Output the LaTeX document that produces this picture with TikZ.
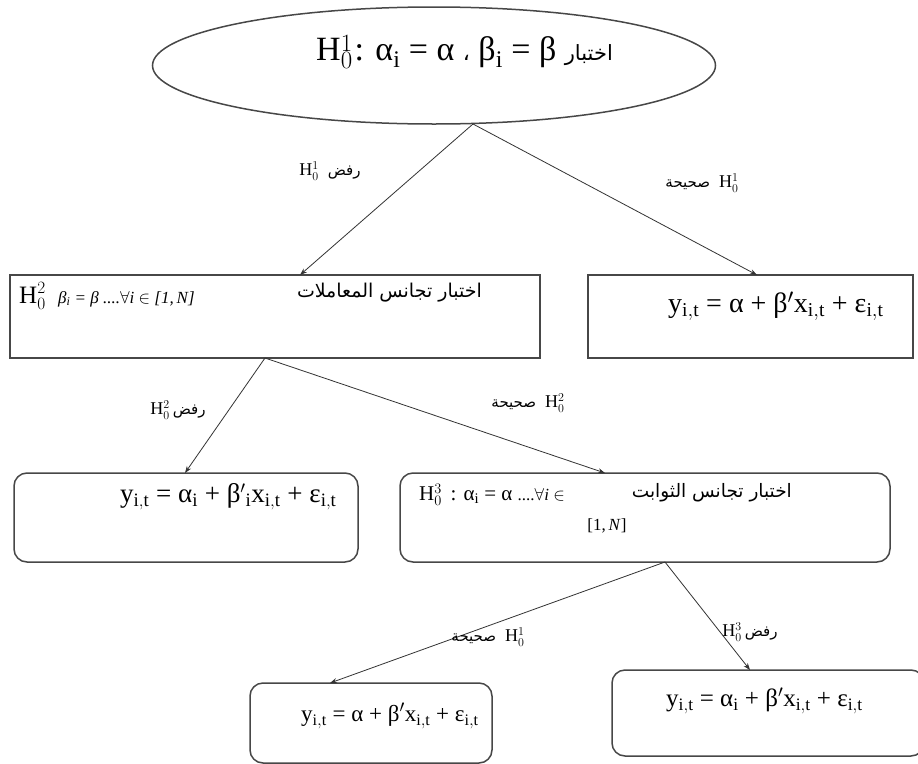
\documentclass[tikz,border=0pt]{standalone}
\usepackage{fontspec}
\setmainfont{Liberation Serif}
\newfontfamily\arabicfont[Script=Arabic]{DejaVu Sans}
\TeXXeTstate=1
\usetikzlibrary{shapes.geometric,arrows.meta}
\newcommand{\Hzero}[1]{$\mathrm{H}_0^{#1}$}
\newcommand{\artxt}[1]{{\arabicfont\beginR #1\endR}}
\newcommand{\sbit}[1]{$_{\mathrm{#1}}$}
\newcommand{\fsz}[1]{\fontsize{#1}{#1}\selectfont}
\begin{document}
\begin{tikzpicture}[x=1pt,y=-1pt,
  boxline/.style={draw=black!72, line width=1.5pt},
  sqbox/.style={boxline, rectangle, inner sep=0pt},
  rbox/.style={boxline, rectangle, rounded corners=13pt, inner sep=0pt},
  conn/.style={draw=black!80, line width=0.8pt, -{Stealth[length=7pt,width=5pt]}},
  lbl/.style={inner sep=0pt, font=\fsz{18}},
  eqn/.style={inner sep=0pt, anchor=west},
]
\useasboundingbox (0,0) rectangle (918,763);
\fill[white] (0,0) rectangle (918,763);

% top ellipse
\node[boxline, ellipse, minimum width=563pt, minimum height=117pt] (top) at (434,65.5) {};
\node[eqn, font=\fsz{34}] (toptxt) at (316,52)
  {\Hzero{1}\kern2pt: α\sbit{i} = α {\fsz{22}\artxt{،}} β\sbit{i} = β {\fsz{21}\artxt{اختبار}}};

% row 2 boxes
\node[sqbox, minimum width=530pt, minimum height=83pt] (A) at (275,316.5) {};
\node[sqbox, minimum width=325pt, minimum height=83pt] (B) at (750.5,316.5) {};
\node[eqn, font=\fsz{25}] (Atxt) at (19,296)
  {\Hzero{2}\ \ {\fsz{17}\itshape β\textsubscript{i} = β ....$\forall$i $\in$ [1,\,N]}};
\node[inner sep=0pt, anchor=east, font=\fsz{19}] (Aar) at (482,293)
  {\artxt{اختبار تجانس المعاملات}};
\node[eqn, font=\fsz{28}] (Btxt) at (668,306)
  {y\sbit{i,t} = α + β$'$x\sbit{i,t} + ε\sbit{i,t}};

% row 3 boxes
\node[rbox, minimum width=344pt, minimum height=89pt] (C) at (186,517.5) {};
\node[rbox, minimum width=490pt, minimum height=89pt] (D) at (645,517.5) {};
\node[eqn, font=\fsz{27}] (Ctxt) at (120,497)
  {y\sbit{i,t} = α\sbit{i} + β$'$\sbit{i}x\sbit{i,t} + ε\sbit{i,t}};
\node[eqn, font=\fsz{21}] (Dtxt) at (419,495)
  {\Hzero{3}\, : α\sbit{i} = α {\fsz{17}....$\forall$\textit{i} $\in$}};
\node[inner sep=0pt, anchor=east, font=\fsz{18.5}] (Dar) at (792,493)
  {\artxt{اختبار تجانس الثوابت}};
\node[inner sep=0pt, font=\fsz{17}] (Dint) at (607,526) {[1,\,\textit{N}]};

% row 4 boxes
\node[rbox, minimum width=242pt, minimum height=80pt] (E) at (371,723) {};
\node[rbox, minimum width=312pt, minimum height=86pt] (F) at (768,713) {};
\node[eqn, font=\fsz{23}] (Etxt) at (301,716)
  {y\sbit{i,t} = α + β$'$x\sbit{i,t} + ε\sbit{i,t}};
\node[eqn, font=\fsz{25}] (Ftxt) at (666,701)
  {y\sbit{i,t} = α\sbit{i} + β$'$x\sbit{i,t} + ε\sbit{i,t}};

% connector points
\coordinate (apex) at (473,124);
\coordinate (Ain) at (300,275);
\coordinate (Bin) at (757,275);
\coordinate (Aout) at (265,358);
\coordinate (Cin) at (185,473);
\coordinate (Din) at (605,473);
\coordinate (Dout) at (665,562);
\coordinate (Ein) at (330,683);
\coordinate (Fin) at (750,670);

\draw[conn] (apex) -- (Ain);
\draw[conn] (apex) -- (Bin);
\draw[conn] (Aout) -- (Cin);
\draw[conn] (Aout) -- (Din);
\draw[conn] (Dout) -- (Ein);
\draw[conn] (Dout) -- (Fin);

% labels
\node[lbl] (l1) at (330,171) {\Hzero{1}\ \ {\fsz{15}\artxt{رفض}}};
\node[lbl] (l2) at (702,183) {{\fsz{15}\artxt{صحيحة}}\ \ \Hzero{1}};
\node[lbl] (l3) at (178,410) {\Hzero{2}\,{\fsz{15}\artxt{رفض}}};
\node[lbl] (l4) at (528,403) {{\fsz{15}\artxt{صحيحة}}\ \ \Hzero{2}};
\node[lbl] (l5) at (488,637) {{\fsz{15}\artxt{صحيحة}}\ \ \Hzero{1}};
\node[lbl] (l6) at (750,632) {\Hzero{3}\,{\fsz{15}\artxt{رفض}}};
\end{tikzpicture}
\end{document}
